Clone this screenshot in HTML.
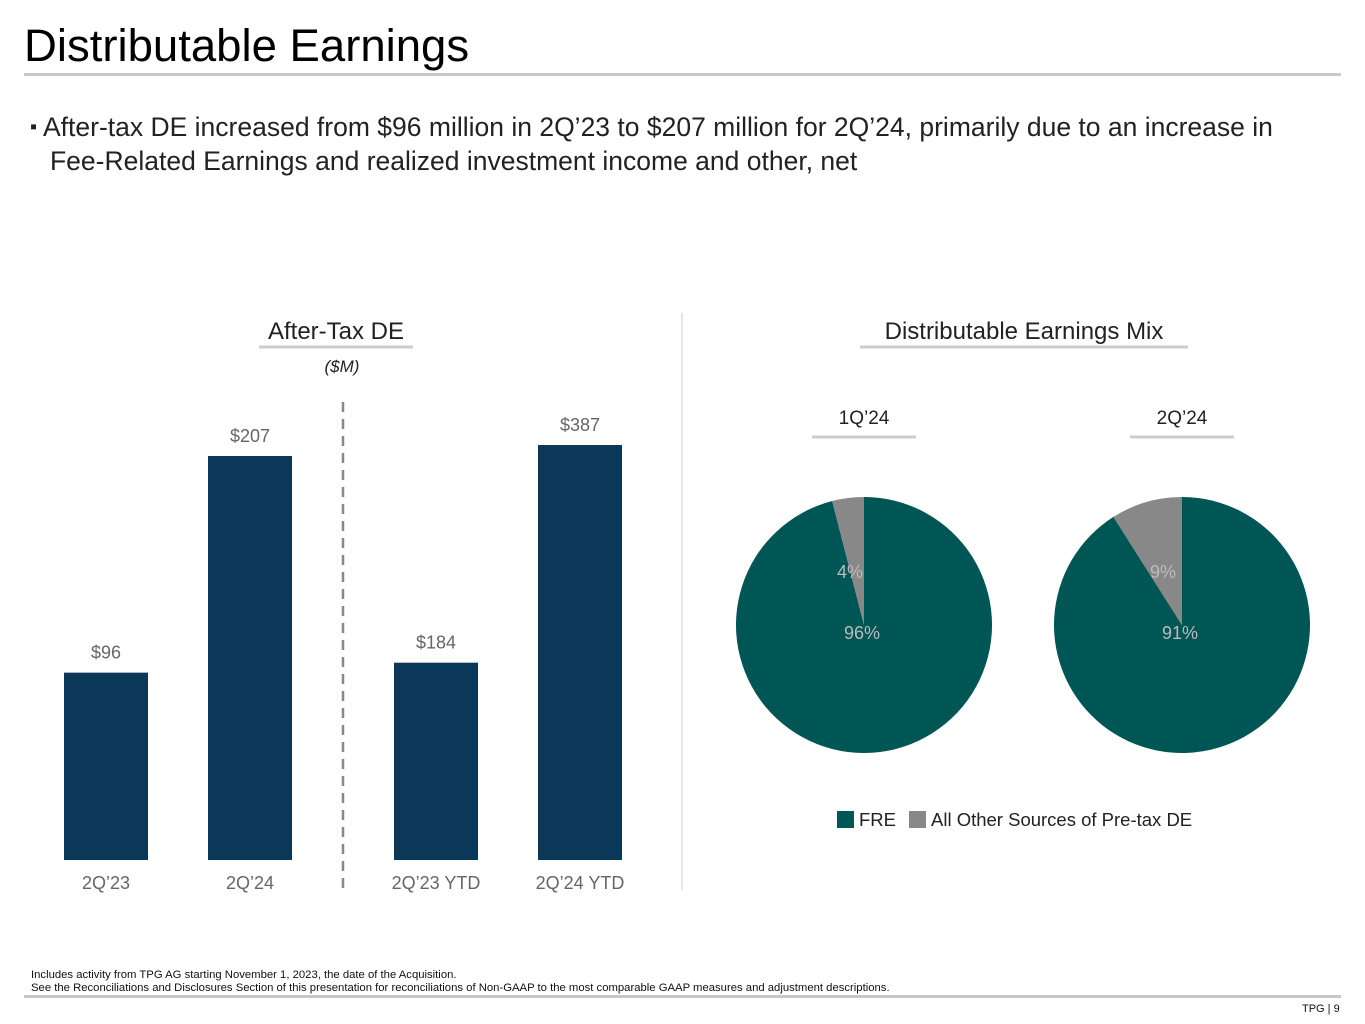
<!DOCTYPE html>
<html><head><meta charset="utf-8"><style>
body{margin:0;width:1365px;height:1024px;background:#fff;font-family:"Liberation Sans",sans-serif;position:relative;overflow:hidden}
.a{position:absolute;white-space:nowrap}
</style></head><body>
<div class="a" style="left:24px;top:20px;font-size:45.5px;color:#000">Distributable Earnings</div>
<div class="a" style="left:24px;top:73px;width:1317px;height:3px;background:#c8c8c8"></div>
<div class="a" style="left:30px;top:112px;font-size:26.5px;line-height:31px;color:#222"><span style="font-size:20px;position:relative;top:-3px">▪</span> After-tax DE increased from $96 million in 2Q’23 to $207 million for 2Q’24, primarily due to an increase in<br><span style="padding-left:20px">Fee-Related Earnings and realized investment income and other, net</span></div>
<div class="a" style="left:31px;top:969px;font-size:11.3px;line-height:13px;color:#111">Includes activity from TPG AG starting November 1, 2023, the date of the Acquisition.<br>See the Reconciliations and Disclosures Section of this presentation for reconciliations of Non-GAAP to the most comparable GAAP measures and adjustment descriptions.</div>
<div class="a" style="left:24px;top:995px;width:1317px;height:3px;background:#c8c8c8"></div>
<div class="a" style="left:1302px;top:1003px;font-size:11px;color:#111">TPG | 9</div>
<svg class="a" style="left:0;top:0" width="1365" height="1024" id="svg"></svg>
<script>
const categories=["2Q’23","2Q’24","2Q’23 YTD","2Q’24 YTD"];
const values=[96,207,184,387];
const labels=["$96","$207","$184","$387"];
const pieTitles=["1Q’24","2Q’24"];
const freShare=[96,91];
const otherShare=[4,9];
const NS="http://www.w3.org/2000/svg";
const svg=document.getElementById('svg');
function mk(t,a,txt){const e=document.createElementNS(NS,t);for(const k in a)e.setAttribute(k,a[k]);if(txt!==undefined)e.textContent=txt;svg.appendChild(e);return e;}
const base=860;
function yQ(v){return base-v*(404/207);}
function yYTD(v){return base-v*(415/387);}
const xs=[64,208,394,538];
let e;
e=mk('text',{x:336,y:339,'font-size':24,fill:'#222','text-anchor':'middle'},'After-Tax DE');

mk('line',{x1:259,x2:413,y1:347,y2:347,stroke:'#ccc','stroke-width':3});
e=mk('text',{x:342,y:372,'font-size':17,fill:'#222','text-anchor':'middle','font-style':'italic'},'($M)');

mk('line',{x1:343,x2:343,y1:402,y2:890,stroke:'#888','stroke-width':2.5,'stroke-dasharray':'10,7'});
mk('line',{x1:682,x2:682,y1:313,y2:890,stroke:'#ddd','stroke-width':1.5});
values.forEach((v,i)=>{
  const y=i<2?yQ(v):yYTD(v);
  const b=mk('rect',{x:xs[i],y:y,width:84,height:base-y,fill:'#0b3858'});
  
  
  const t=mk('text',{x:xs[i]+42,y:y-14,'font-size':18,fill:'#666','text-anchor':'middle'},labels[i]);
  
  
  const c=mk('text',{x:xs[i]+42,y:889,'font-size':18,fill:'#666','text-anchor':'middle'},categories[i]);
  
  
});
e=mk('text',{x:1024,y:339,'font-size':24,fill:'#222','text-anchor':'middle'},'Distributable Earnings Mix');

mk('line',{x1:860,x2:1188,y1:347,y2:347,stroke:'#ccc','stroke-width':3});
const cxs=[864,1182],cy=625,r=128;
freShare.forEach((f,i)=>{
  const cx=cxs[i];
  const t=mk('text',{x:cx,y:424,'font-size':19,fill:'#222','text-anchor':'middle'},pieTitles[i]);
  
  
  mk('line',{x1:cx-52,x2:cx+52,y1:437,y2:437,stroke:'#ccc','stroke-width':3});
  const tot=f+otherShare[i];
  const a=2*Math.PI*f/tot;
  const ex=cx+r*Math.sin(a),ey=cy-r*Math.cos(a);
  const p1=mk('path',{d:`M${cx},${cy}L${cx},${cy-r}A${r},${r} 0 ${a>Math.PI?1:0} 1 ${ex},${ey}Z`,fill:'#005555'});
  
  
  const p2=mk('path',{d:`M${cx},${cy}L${ex},${ey}A${r},${r} 0 ${a<Math.PI?1:0} 1 ${cx},${cy-r}Z`,fill:'#888'});
  
  
  const l1=mk('text',{x:cx-2,y:639,'font-size':18,fill:'#bbb','text-anchor':'middle'},f+'%');
  
  
  const l2=mk('text',{x:cx-14-(otherShare[i]>5?5:0),y:578,'font-size':18,fill:'#bbb','text-anchor':'middle'},otherShare[i]+'%');
  
  
});
e=mk('rect',{x:837,y:811,width:17,height:17,fill:'#005555'});

e=mk('text',{x:859,y:826,'font-size':18.5,fill:'#222'},'FRE');

e=mk('rect',{x:909,y:811,width:17,height:17,fill:'#888'});

e=mk('text',{x:931,y:826,'font-size':18.5,fill:'#222'},'All Other Sources of Pre-tax DE');

</script>
</body></html>
